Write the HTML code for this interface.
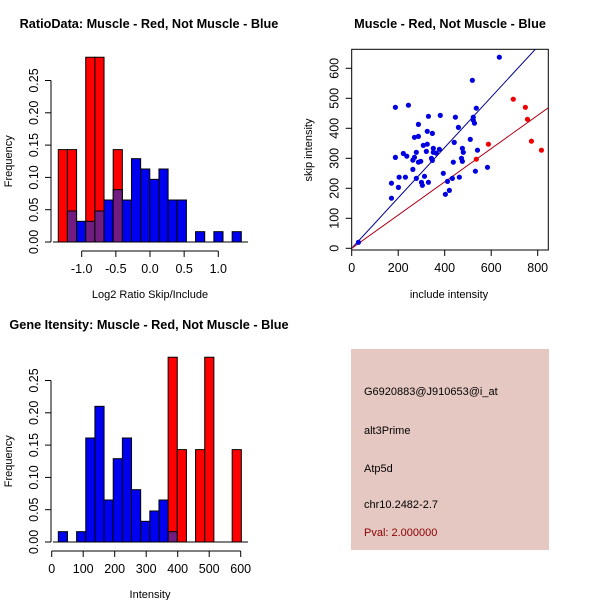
<!DOCTYPE html>
<html><head><meta charset="utf-8"><style>
body{margin:0;background:#fff}
svg{display:block;font-family:"Liberation Sans",sans-serif}
</style></head><body>
<svg id="c" width="600" height="600" viewBox="0 0 600 600">
<rect width="600" height="600" fill="#fff"/>
<g id="p1"></g>
<g id="p2"></g>
<g id="p3"></g>
<g>
<rect x="351" y="349" width="198" height="201" fill="#e6c8c2"/>
<g font-size="11" fill="#000">
<text x="364" y="395">G6920883@J910653@i_at</text>
<text x="364" y="434">alt3Prime</text>
<text x="364" y="472">Atp5d</text>
<text x="364" y="508">chr10.2482-2.7</text>
<text x="364" y="536" fill="#8b0000">Pval: 2.000000</text>
</g></g>
</svg>
<script>
// Ratio histogram data
const ratioBinStart = -1.343, ratioBinWidth = 0.134;
const ratioRed =  [0.143,0.143,0,0.286,0.286,0,0.143,0,0,0,0,0,0,0,0,0,0,0,0,0];
const ratioBlue = [0,0.048,0.032,0.032,0.048,0.065,0.081,0.065,0.129,0.113,0.097,0.113,0.065,0.065,0,0.016,0,0.016,0,0.016];
const ratioXTicks = [-1.0,-0.5,0.0,0.5,1.0];
const freqTicks = [0,0.05,0.10,0.15,0.20,0.25];
// Intensity histogram data
const intBinStart = 21, intBinWidth = 29.05;
const intRed =  [0,0,0,0,0,0,0,0,0,0,0,0,0.286,0.143,0,0.143,0.286,0,0,0.143];
const intBlue = [0.016,0,0.016,0.161,0.21,0.065,0.129,0.161,0.081,0.032,0.048,0.065,0.016,0,0,0,0,0,0,0];
const intXTicks = [0,100,200,300,400,500,600];
// Scatter data
const blueX = [29,171,171,188,244,188,201,204,231,222,237,263,263,270,278,270,287,287,287,297,278,300,304,313,308,325,321,325,330,330,343,347,347,351,351,364,377,381,394,403,412,420,433,437,441,446,459,463,472,476,476,480,510,519,523,523,528,532,536,541,584,635];
const blueY = [20,167,217,470,477,303,203,237,237,316,307,263,294,303,320,370,373,413,287,290,233,220,210,240,343,347,323,390,440,220,300,383,293,333,320,317,330,443,250,180,223,193,233,287,353,437,403,237,300,333,290,320,363,560,437,427,417,257,467,327,270,637];
const redX = [536,588,695,747,756,773,816];
const redY = [297,347,497,470,430,357,327];
const scatterXTicks = [0,200,400,600,800];
const scatterYTicks = [0,100,200,300,400,500,600];
const blueSlope = 0.84, redSlope = 0.554;

const NS = "http://www.w3.org/2000/svg";
function mk(parent, tag, attrs, text){
  const e = document.createElementNS(NS, tag);
  for (const k in attrs) e.setAttribute(k, attrs[k]);
  if (text !== undefined) e.textContent = text;
  parent.appendChild(e); return e;
}
function fmt2(v){return v.toFixed(2);}

function histogram(g, o){
  const sx = v => o.x0 + (v - o.xv0) * o.kx;
  const sy = v => o.y0 - v * o.ky;
  for (let i=0;i<o.red.length;i++){
    const a = sx(o.start + i*o.w), b = sx(o.start + (i+1)*o.w);
    const r = o.red[i], bl = o.blue[i];
    if (r>0){ const e = mk(g,'rect',{x:a,y:sy(r),width:b-a,height:sy(0)-sy(r),fill:'#ff0000',stroke:'#000','stroke-width':1});
        }
    if (bl>0){ const e = mk(g,'rect',{x:a,y:sy(bl),width:b-a,height:sy(0)-sy(bl),fill:r>0?'#701c80':'#0000f0',stroke:'#000','stroke-width':1});
       
      if (r>0 && r<bl){ const f = mk(g,'rect',{x:a,y:sy(bl),width:b-a,height:sy(r)-sy(bl),fill:'#0000f0',stroke:'#000','stroke-width':1});
          }
    }
  }
  const ya = mk(g,'line',{x1:o.yax,x2:o.yax,y1:sy(0),y2:sy(0.25),stroke:'#000'});
   
  freqTicks.forEach(t=>{
    mk(g,'line',{x1:o.yax-6,x2:o.yax,y1:sy(t),y2:sy(t),stroke:'#000'});
    const tx = mk(g,'text',{x:o.yax-13,y:sy(t),'font-size':12.5,'text-anchor':'middle',transform:`rotate(-90 ${o.yax-13} ${sy(t)})`},fmt2(t));
     
  });
  const ax = mk(g,'line',{x1:sx(o.ticks[0]),x2:sx(o.ticks[o.ticks.length-1]),y1:o.xay,y2:o.xay,stroke:'#000'});
   
  o.ticks.forEach(t=>{
    mk(g,'line',{x1:sx(t),x2:sx(t),y1:o.xay,y2:o.xay+6,stroke:'#000'});
    const tx = mk(g,'text',{x:sx(t),y:o.xay+22,'font-size':12.5,'text-anchor':'middle'},o.fmt(t));
     
  });
  mk(g,'line',{x1:o.yax+2,x2:o.yax+65+o.baseLen,y1:sy(0),y2:sy(0),stroke:'#000'});
  const t1 = mk(g,'text',{x:o.tx,y:o.ty,'font-size':12.7,'font-weight':'bold','text-anchor':'middle'},o.title);
   
  const t2 = mk(g,'text',{x:150,y:o.xlY,'font-size':11,'text-anchor':'middle'},o.xlabel);
   
  const cy = (sy(0)+sy(0.25))/2;
  const t3 = mk(g,'text',{x:12,y:cy,'font-size':11,'text-anchor':'middle',transform:`rotate(-90 12 ${cy})`},'Frequency');
   
}

histogram(document.getElementById('p1'),{
  x0:81.7,xv0:-1,kx:68.3,y0:242,ky:646,start:ratioBinStart,w:ratioBinWidth,
  red:ratioRed,blue:ratioBlue,ticks:ratioXTicks,fmt:v=>v.toFixed(1),
  yax:51,xay:251,baseLen:132,title:'RatioData: Muscle - Red, Not Muscle - Blue',tx:149,ty:28,
  xlabel:'Log2 Ratio Skip/Include',xlY:298});
histogram(document.getElementById('p3'),{
  x0:51.7,xv0:0,kx:0.315,y0:542,ky:646,start:intBinStart,w:intBinWidth,
  red:intRed,blue:intBlue,ticks:intXTicks,fmt:v=>String(v),
  yax:51,xay:551,baseLen:132,title:'Gene Itensity: Muscle - Red, Not Muscle - Blue',tx:149,ty:329,
  xlabel:'Intensity',xlY:598});

(function(){
  const g = document.getElementById('p2');
  const sx = v => 351.7 + v*0.2325, sy = v => 248.3 - v*0.3;
  const L=351.7,R=548.3,T=49.3,B=250;
  const cp = mk(g,'clipPath',{id:'clip'}); mk(cp,'rect',{x:L,y:T,width:R-L,height:B-T});
  const bx = mk(g,'rect',{x:L,y:T,width:R-L,height:B-T,fill:'none',stroke:'#000'});
   
  const xmax = 900;
  const bl = mk(g,'line',{x1:sx(0),y1:sy(0),x2:sx(xmax),y2:sy(xmax*blueSlope),stroke:'#00008b','clip-path':'url(#clip)'});
   
  const rl = mk(g,'line',{x1:sx(0),y1:sy(0),x2:sx(xmax),y2:sy(xmax*redSlope),stroke:'#b0001a','clip-path':'url(#clip)'});
   
  blueX.forEach((x,i)=>{ const c = mk(g,'circle',{cx:sx(x),cy:sy(blueY[i]),r:2.6,fill:'#0000e0'});
      });
  redX.forEach((x,i)=>{ const c = mk(g,'circle',{cx:sx(x),cy:sy(redY[i]),r:2.6,fill:'#ee0000'});
      });
  scatterXTicks.forEach(t=>{
    mk(g,'line',{x1:sx(t),x2:sx(t),y1:B,y2:B+6,stroke:'#000'});
    const tx = mk(g,'text',{x:sx(t),y:B+22,'font-size':12.5,'text-anchor':'middle'},String(t));
     
  });
  scatterYTicks.forEach(t=>{
    mk(g,'line',{x1:L-6,x2:L,y1:sy(t),y2:sy(t),stroke:'#000'});
    const tx = mk(g,'text',{x:L-13,y:sy(t),'font-size':12.5,'text-anchor':'middle',transform:`rotate(-90 ${L-13} ${sy(t)})`},String(t));
     
  });
  const t1 = mk(g,'text',{x:450,y:28,'font-size':12.7,'font-weight':'bold','text-anchor':'middle'},'Muscle - Red, Not Muscle - Blue');
   
  const t2 = mk(g,'text',{x:449,y:298,'font-size':11,'text-anchor':'middle'},'include intensity');
   
  const t3 = mk(g,'text',{x:312,y:150,'font-size':11,'text-anchor':'middle',transform:'rotate(-90 312 150)'},'skip intensity');
   
})();
</script>
</body></html>
